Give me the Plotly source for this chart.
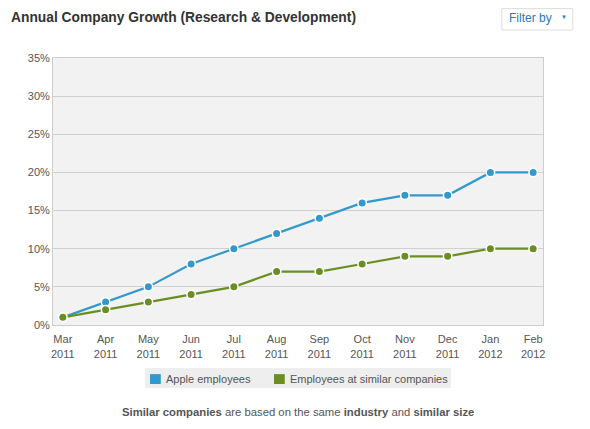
import plotly.graph_objects as go

# chart data
months = ["Mar<br>2011", "Apr<br>2011", "May<br>2011", "Jun<br>2011", "Jul<br>2011", "Aug<br>2011",
          "Sep<br>2011", "Oct<br>2011", "Nov<br>2011", "Dec<br>2011", "Jan<br>2012", "Feb<br>2012"]
apple = [1, 3, 5, 8, 10, 12, 14, 16, 17, 17, 20, 20]
similar = [1, 2, 3, 4, 5, 7, 7, 8, 9, 9, 10, 10]
series_names = ["Apple employees", "Employees at similar companies"]
series_colors = ["#3399cc", "#6b8e23"]
y_ticks = [0, 5, 10, 15, 20, 25, 30, 35]

FONT = "Liberation Sans, Arial, sans-serif"

fig = go.Figure()

for name, vals, color in zip(series_names, [apple, similar], series_colors):
    fig.add_trace(go.Scatter(
        x=list(range(len(months))), y=vals, name=name,
        mode="lines+markers", showlegend=False,
        line=dict(color=color, width=2.2),
        marker=dict(color=color, size=8.5, line=dict(color="white", width=1.5)),
    ))

# the page has an 8px body margin, so the figure is drawn a bit smaller
fig.update_layout(
    width=582, height=421,
    margin=dict(l=45, r=47, t=50, b=104),
    paper_bgcolor="white",
    plot_bgcolor="#f2f2f2",
    font=dict(family=FONT, size=11, color="#555555"),
    showlegend=False,
    xaxis=dict(
        tickmode="array", tickvals=list(range(len(months))), ticktext=months,
        range=[-0.23, 11.23], showgrid=False, zeroline=False,
        showline=True, linecolor="#cccccc", linewidth=1, mirror=True,
        ticks="outside", ticklen=4, tickcolor="rgba(0,0,0,0)",
        tickfont=dict(size=11, color="#555555"), fixedrange=True,
    ),
    yaxis=dict(
        tickmode="array", tickvals=y_ticks, ticktext=[f"{v}%" for v in y_ticks],
        range=[0, 35], gridcolor="#d0d0d0", gridwidth=1, zeroline=False,
        showline=True, linecolor="#cccccc", linewidth=1, mirror=True,
        tickfont=dict(size=11, color="#555555"), ticks="", ticklen=4,
        fixedrange=True,
    ),
)

# legend drawn by hand so the swatches sit tight against their labels
fig.add_shape(type="rect", xref="paper", yref="paper",
              x0=0.188, x1=0.812, y0=-0.236, y1=-0.161,
              line=dict(width=0), fillcolor="#eeeeee")
legend_x = [(0.198, 0.2265), (0.451, 0.4796)]
for (sx, tx), name, color in zip(legend_x, series_names, series_colors):
    fig.add_shape(type="rect", xref="paper", yref="paper",
                  x0=sx, x1=sx + 0.022, y0=-0.221, y1=-0.184,
                  line=dict(width=0), fillcolor=color)
    fig.add_annotation(text=name, xref="paper", yref="paper", x=tx, y=-0.202,
                       xanchor="left", yanchor="middle", showarrow=False,
                       font=dict(family=FONT, size=11, color="#555555"))

# title at top left
fig.add_annotation(
    text="<b>Annual Company Growth (Research &amp; Development)</b>",
    xref="paper", yref="paper", x=-0.09, y=1.150, xanchor="left", yanchor="middle",
    showarrow=False, font=dict(family=FONT, size=13.8, color="#333333"),
)

# "Filter by" box in the top right
fig.add_shape(
    type="rect", xref="paper", yref="paper",
    x0=0.916, x1=1.061, y0=1.105, y1=1.185,
    line=dict(color="#dddddd", width=1), fillcolor="white",
)
fig.add_annotation(
    text="Filter by",
    xref="paper", yref="paper", x=0.975, y=1.150, xanchor="center", yanchor="middle",
    showarrow=False, font=dict(family=FONT, size=12, color="#2a78b8"),
)
fig.add_annotation(
    text="▼",
    xref="paper", yref="paper", x=1.043, y=1.152, xanchor="center", yanchor="middle",
    showarrow=False, font=dict(family=FONT, size=6, color="#2a78b8"),
)

# footnote
fig.add_annotation(
    text="<b>Similar companies</b> are based on the same <b>industry</b> and <b>similar size</b>",
    xref="paper", yref="paper", x=0.5, y=-0.326, xanchor="center", yanchor="middle",
    showarrow=False, font=dict(family=FONT, size=11.3, color="#555555"),
)

fig.write_html("out.html", config={"displayModeBar": False})
